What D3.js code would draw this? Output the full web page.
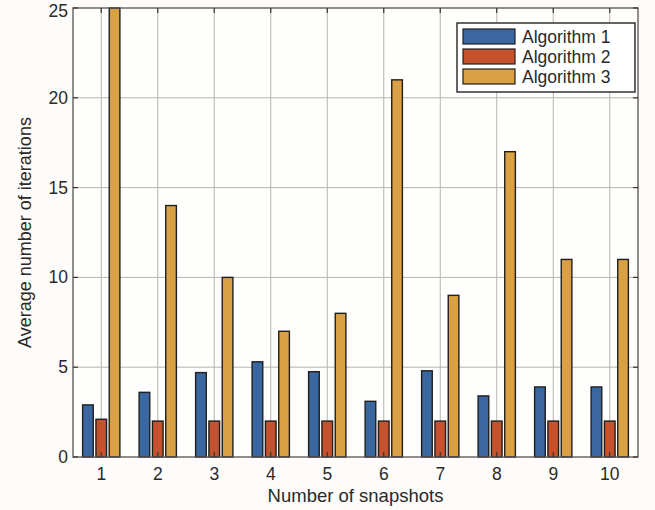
<!DOCTYPE html>
<html>
<head>
<meta charset="utf-8">
<script src="https://cdn.jsdelivr.net/npm/d3@7"></script>
<style>
  html, body { margin: 0; padding: 0; background: #fdfcfa; }
  svg { display: block; }
  text { font-family: Arial, "Liberation Sans", sans-serif; fill: #2a2a2a; }
</style>
</head>
<body>
<svg id="chart" width="655" height="510"></svg>
<script>
// Snapshot counts and average iteration counts for each algorithm
const snapshots = [1, 2, 3, 4, 5, 6, 7, 8, 9, 10];
const algorithm1 = [2.9, 3.6, 4.7, 5.3, 4.75, 3.1, 4.8, 3.4, 3.9, 3.9];
const algorithm2 = [2.1, 2, 2, 2, 2, 2, 2, 2, 2, 2];
const algorithm3 = [25, 14, 10, 7, 8, 21, 9, 17, 11, 11];
const seriesNames = ["Algorithm 1", "Algorithm 2", "Algorithm 3"];
const seriesColors = ["#3a67a0", "#c4522c", "#d9a143"];
const yTicks = [0, 5, 10, 15, 20, 25];

const series = [algorithm1, algorithm2, algorithm3];

const svg = d3.select("#chart");
const margin = { left: 73, right: 17, top: 8, bottom: 53 };
const W = 655, H = 510;
const x0 = margin.left, x1 = W - margin.right;
const y0 = H - margin.bottom, y1 = margin.top;

const x = d3.scaleBand().domain(snapshots).range([x0, x1]).paddingInner(0).paddingOuter(0);
const sub = d3.scaleBand().domain(d3.range(series.length))
  .range([x.bandwidth() * 0.17, x.bandwidth() * 0.83]).paddingInner(0.2);
const y = d3.scaleLinear().domain([0, 25]).range([y0, y1]);

// plot background
svg.append("rect").attr("x", x0).attr("y", y1).attr("width", x1 - x0).attr("height", y0 - y1)
  .attr("fill", "#fefefd");

// grid lines
const grid = svg.append("g");
grid.selectAll("line.v").data(snapshots).join("line")
  .attr("x1", d => x(d) + x.bandwidth() / 2).attr("x2", d => x(d) + x.bandwidth() / 2)
  .attr("y1", y0).attr("y2", y1)
  .attr("stroke", "#b9b2b2").attr("stroke-width", 1);
grid.selectAll("line.h").data(yTicks.slice(1, -1)).join("line")
  .attr("x1", x0).attr("x2", x1)
  .attr("y1", d => y(d)).attr("y2", d => y(d))
  .attr("stroke", "#b9b2b2").attr("stroke-width", 1);

// bars
const bars = svg.append("g");
series.forEach((vals, si) => {
  bars.selectAll(null).data(snapshots).join("rect")
    .attr("x", (d, i) => x(d) + sub(si))
    .attr("width", sub.bandwidth())
    .attr("y", (d, i) => y(vals[i]))
    .attr("height", (d, i) => y0 - y(vals[i]))
    .attr("fill", seriesColors[si])
    .attr("stroke", "#1f1f1f").attr("stroke-width", 1.4);
});

// axes box
svg.append("rect").attr("x", x0).attr("y", y1).attr("width", x1 - x0).attr("height", y0 - y1)
  .attr("fill", "none").attr("stroke", "#5a5252").attr("stroke-width", 1.3);

// inward ticks
const tickLen = 5;
const xt = svg.append("g");
snapshots.forEach(d => {
  const cx = x(d) + x.bandwidth() / 2;
  xt.append("line").attr("x1", cx).attr("x2", cx).attr("y1", y0).attr("y2", y0 - tickLen)
    .attr("stroke", "#3a3232").attr("stroke-width", 1.2);
  xt.append("line").attr("x1", cx).attr("x2", cx).attr("y1", y1).attr("y2", y1 + tickLen)
    .attr("stroke", "#3a3232").attr("stroke-width", 1.2);
});
yTicks.forEach(v => {
  xt.append("line").attr("x1", x0).attr("x2", x0 + tickLen).attr("y1", y(v)).attr("y2", y(v))
    .attr("stroke", "#3a3232").attr("stroke-width", 1.2);
  xt.append("line").attr("x1", x1).attr("x2", x1 - tickLen).attr("y1", y(v)).attr("y2", y(v))
    .attr("stroke", "#3a3232").attr("stroke-width", 1.2);
});

// tick labels (the topmost one is kept inside the page)
svg.append("g").selectAll("text").data(snapshots).join("text")
  .attr("x", d => x(d) + x.bandwidth() / 2).attr("y", y0 + 23)
  .attr("text-anchor", "middle").attr("font-size", 17.5).text(d => d);
svg.append("g").selectAll("text").data(yTicks).join("text")
  .attr("x", x0 - 5).attr("y", d => Math.max(y(d) + 6, 17))
  .attr("text-anchor", "end").attr("font-size", 17.5).text(d => d);

// axis titles
svg.append("text").attr("x", (x0 + x1) / 2).attr("y", 502)
  .attr("text-anchor", "middle").attr("font-size", 18.5).text("Number of snapshots");
svg.append("text").attr("transform", `translate(31, ${(y0 + y1) / 2}) rotate(-90)`)
  .attr("text-anchor", "middle").attr("font-size", 18).text("Average number of iterations");

// legend
const lg = svg.append("g").attr("transform", "translate(457, 23)");
lg.append("rect").attr("width", 178).attr("height", 69)
  .attr("fill", "#ffffff").attr("stroke", "#2a2222").attr("stroke-width", 1.4);
seriesNames.forEach((name, i) => {
  const ry = 6 + i * 20;
  lg.append("rect").attr("x", 6).attr("y", ry).attr("width", 52).attr("height", 15)
    .attr("fill", seriesColors[i]).attr("stroke", "#1f1f1f").attr("stroke-width", 1.2);
  lg.append("text").attr("x", 65).attr("y", ry + 14).attr("font-size", 17.5).text(name);
});
</script>
</body>
</html>
